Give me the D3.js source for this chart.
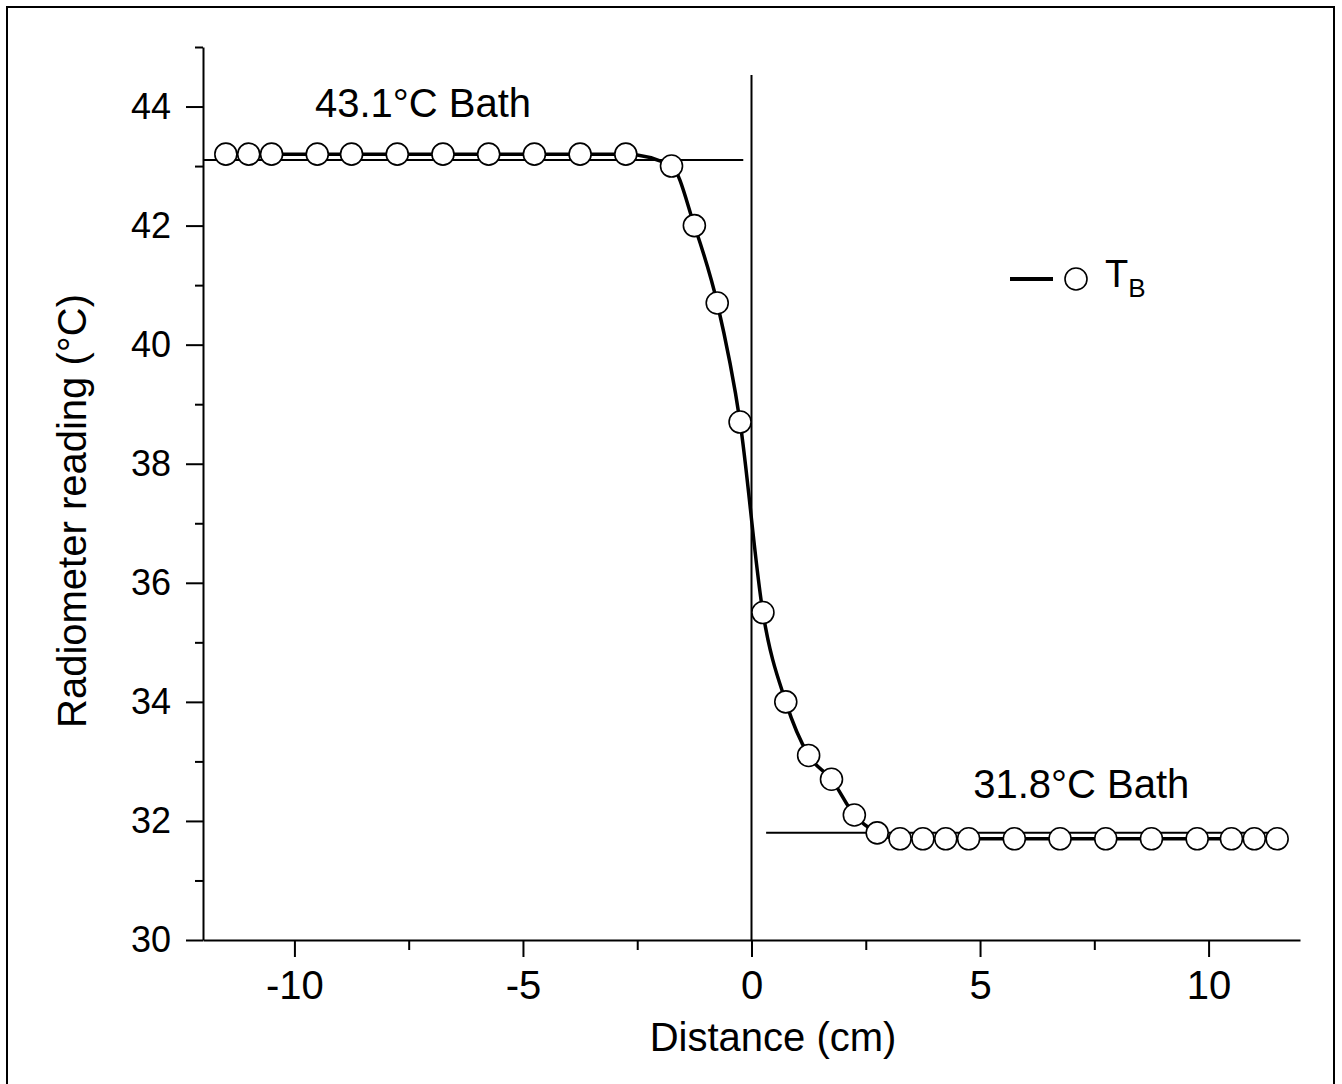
<!DOCTYPE html>
<html>
<head>
<meta charset="utf-8">
<script src="https://cdn.jsdelivr.net/npm/d3@7"></script>
<style>
  html, body { margin: 0; padding: 0; background: #fff; }
  svg { display: block; font-family: "Liberation Sans", Arial, sans-serif; }
</style>
</head>
<body>
<svg id="chart" width="1342" height="1084"></svg>
<script>
// ---- data ----
const distance = [-11.5, -11, -10.5, -9.5, -8.75, -7.75, -6.75, -5.75, -4.75, -3.75, -2.75,
                  -1.75, -1.25, -0.75, -0.25, 0.25, 0.75, 1.25, 1.75, 2.25, 2.75,
                  3.25, 3.75, 4.25, 4.75, 5.75, 6.75, 7.75, 8.75, 9.75, 10.5, 11, 11.5];
const reading = [43.2, 43.2, 43.2, 43.2, 43.2, 43.2, 43.2, 43.2, 43.2, 43.2, 43.2,
                 43.0, 42.0, 40.7, 38.7, 35.5, 34.0, 33.1, 32.7, 32.1, 31.8,
                 31.7, 31.7, 31.7, 31.7, 31.7, 31.7, 31.7, 31.7, 31.7, 31.7, 31.7, 31.7];
const bathLevels = [43.1, 31.8];
const bathSpans = [[-12, -0.18], [0.32, 11.7]];
const bathLabels = ["43.1°C Bath", "31.8°C Bath"];
const bathLabelPos = [[-9.55, 43.82], [4.85, 32.38]];
const xMajorTicks = [-10, -5, 0, 5, 10];
const xMinorTicks = [-7.5, -2.5, 2.5, 7.5];
const yMajorTicks = [30, 32, 34, 36, 38, 40, 42, 44];
const yMinorTicks = [31, 33, 35, 37, 39, 41, 43, 45];
const xLabel = "Distance (cm)";
const yLabel = "Radiometer reading (°C)";
const legendName = ["T", "B"];

// ---- layout ----
const svg = d3.select("#chart");
const x = d3.scaleLinear().domain([-12, 12]).range([203, 1300]);
const y = d3.scaleLinear().domain([30, 45]).range([940, 47]);
const FONT = "Liberation Sans, Arial, sans-serif";

// outer frame
svg.append("rect").attr("x", 7).attr("y", 7).attr("width", 1327).attr("height", 1100)
  .attr("fill", "none").attr("stroke", "#000").attr("stroke-width", 2);

// x axis
const gx = svg.append("g").attr("transform", `translate(0,${y(30)})`);
gx.call(d3.axisBottom(x).tickValues(xMajorTicks).tickSize(17).tickSizeOuter(0).tickPadding(14)
  .tickFormat(d => d < 0 ? "-" + Math.abs(d) : String(d)));
gx.selectAll("text").attr("font-size", 40).attr("font-family", FONT).attr("fill", "#000");
gx.append("g").call(d3.axisBottom(x).tickValues(xMinorTicks).tickSize(10).tickFormat(""))
  .select(".domain").remove();

// y axis
const gy = svg.append("g").attr("transform", `translate(${x(-12)},0)`);
gy.call(d3.axisLeft(y).tickValues(yMajorTicks).tickSize(17).tickSizeOuter(0).tickPadding(15));
gy.selectAll("text").attr("font-size", 36).attr("font-family", FONT).attr("fill", "#000");
gy.append("g").call(d3.axisLeft(y).tickValues(yMinorTicks).tickSize(8).tickFormat(""))
  .select(".domain").remove();

svg.selectAll(".domain").attr("stroke", "#000").attr("stroke-width", 2);
svg.selectAll(".tick line").attr("stroke", "#000").attr("stroke-width", 2);

// vertical line at x = 0
svg.append("line").attr("x1", x(0)).attr("x2", x(0)).attr("y1", y(44.53)).attr("y2", y(30))
  .attr("stroke", "#000").attr("stroke-width", 2);

// bath reference lines
bathLevels.forEach((lv, i) => {
  svg.append("line").attr("x1", x(bathSpans[i][0])).attr("x2", x(bathSpans[i][1]))
    .attr("y1", y(lv)).attr("y2", y(lv)).attr("stroke", "#000").attr("stroke-width", 2);
  svg.append("text").attr("x", x(bathLabelPos[i][0])).attr("y", y(bathLabelPos[i][1]))
    .attr("font-size", 40).attr("fill", "#000").text(bathLabels[i]);
});

// data line
const pts = distance.map((d, i) => [d, reading[i]]);
svg.append("path").datum(pts)
  .attr("d", d3.line().x(d => x(d[0])).y(d => y(d[1])).curve(d3.curveMonotoneX))
  .attr("fill", "none").attr("stroke", "#000").attr("stroke-width", 3.5);

// markers
svg.append("g").selectAll("circle").data(pts).join("circle")
  .attr("cx", d => x(d[0])).attr("cy", d => y(d[1])).attr("r", 11)
  .attr("fill", "#fff").attr("stroke", "#000").attr("stroke-width", 1.6);

// legend
svg.append("line").attr("x1", 1010).attr("x2", 1053).attr("y1", 279).attr("y2", 279)
  .attr("stroke", "#000").attr("stroke-width", 4);
svg.append("circle").attr("cx", 1076).attr("cy", 279).attr("r", 11)
  .attr("fill", "#fff").attr("stroke", "#000").attr("stroke-width", 1.6);
const lt = svg.append("text").attr("x", 1105).attr("y", 287).attr("font-size", 38).attr("fill", "#000");
lt.append("tspan").text(legendName[0]);
lt.append("tspan").attr("font-size", 26).attr("dy", 10).text(legendName[1]);

// axis titles
svg.append("text").attr("x", 773).attr("y", 1051).attr("text-anchor", "middle")
  .attr("font-size", 40).attr("fill", "#000").text(xLabel);
svg.append("text").attr("transform", "translate(86,511) rotate(-90)").attr("text-anchor", "middle")
  .attr("font-size", 40).attr("fill", "#000").text(yLabel);
</script>
</body>
</html>
